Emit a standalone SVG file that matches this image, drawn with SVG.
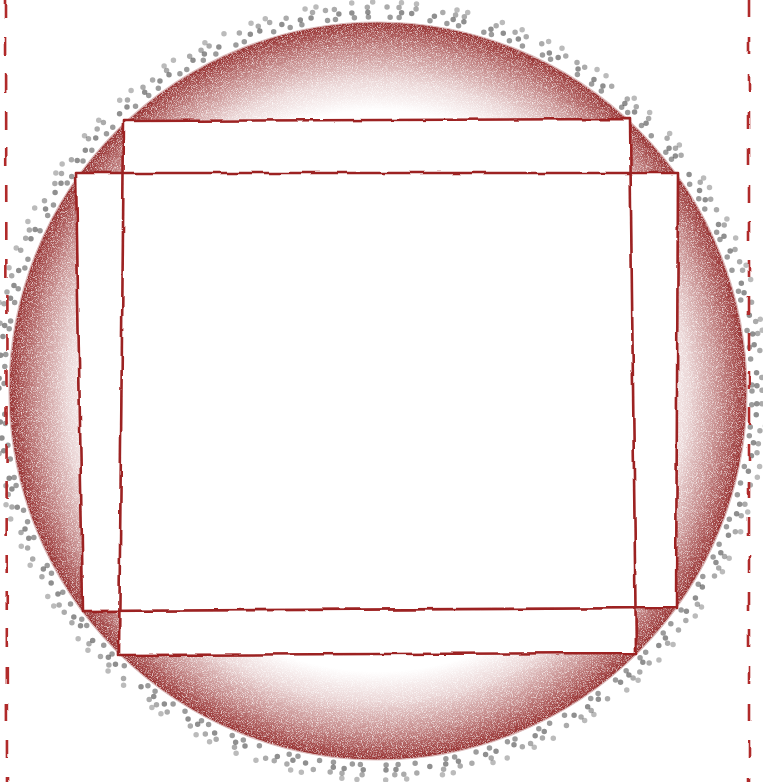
<svg xmlns="http://www.w3.org/2000/svg" width="763" height="782" viewBox="0 0 763 782">
<defs>
<style>
.frame{fill:none;stroke:#9c2020;stroke-width:2.6;stroke-linejoin:round;filter:url(#wobble)}
.dash{fill:none;stroke:#b02a2a;stroke-width:2.6;stroke-dasharray:18 19;filter:url(#wobble)}
.ring{fill:none;stroke-linecap:round;stroke-width:5.5}
.wf{fill:#fff;stroke:none}
</style>
<radialGradient id="shade" gradientUnits="userSpaceOnUse" cx="378" cy="391" r="369">
<stop offset="0" stop-color="#8e1c1c" stop-opacity="0"/>
<stop offset="0.76" stop-color="#8e1c1c" stop-opacity="0"/>
<stop offset="0.84" stop-color="#8e1c1c" stop-opacity="0.18"/>
<stop offset="0.92" stop-color="#8e1c1c" stop-opacity="0.5"/>
<stop offset="1" stop-color="#8a1818" stop-opacity="0.9"/>
</radialGradient>
<filter id="grain" filterUnits="userSpaceOnUse" x="0" y="0" width="763" height="782" color-interpolation-filters="sRGB">
<feTurbulence type="fractalNoise" baseFrequency="1.2" numOctaves="1" seed="4" result="n"/>
<feColorMatrix in="n" type="matrix" values="0 0 0 0 0  0 0 0 0 0  0 0 0 0 0  2.4 0 0 0 -0.3" result="a"/>
<feComposite in="SourceGraphic" in2="a" operator="in"/>
</filter>
<filter id="wobble" filterUnits="userSpaceOnUse" x="0" y="0" width="763" height="782">
<feTurbulence type="fractalNoise" baseFrequency="0.045" numOctaves="2" seed="7" result="w"/>
<feDisplacementMap in="SourceGraphic" in2="w" scale="4" xChannelSelector="R" yChannelSelector="G"/>
</filter>
</defs>
<rect width="763" height="782" fill="#fff"/>
<g id="dots">
<circle class="ring" cx="378" cy="391" r="374" stroke="#3a3a3a" stroke-opacity="0.5" stroke-dasharray="0 14 0 22 0 9 0 31 0 17 0 12 0 26 0 8 0 19"/>
<circle class="ring" cx="378" cy="391" r="379" stroke="#333" stroke-opacity="0.55" stroke-dasharray="0 19 0 11 0 28 0 13 0 16 0 34 0 10 0 23" stroke-dashoffset="6"/>
<circle class="ring" cx="378" cy="391" r="384" stroke="#444" stroke-opacity="0.45" stroke-dasharray="0 17 0 27 0 13 0 9 0 33 0 20 0 12" stroke-dashoffset="4"/>
<circle class="ring" cx="378" cy="391" r="389" stroke="#555" stroke-opacity="0.4" stroke-dasharray="0 29 0 15 0 41 0 11 0 36 0 21" stroke-dashoffset="9"/>
</g>
<g id="disc">
<circle cx="378" cy="391" r="369" fill="url(#shade)" filter="url(#grain)"/>
<circle cx="378" cy="391" r="369" fill="none" stroke="#dcbcbc" stroke-width="1.2"/>
</g>
<g id="white-rects">
<path class="wf" d="M124 121 L630 119 L636 653 L119 655 Z"/>
<path class="wf" d="M76 173 L678 173 L676 608 L83 611 Z"/>
</g>
<g id="frames">
<path class="frame" d="M124 121 L630 119 L636 653 L119 655 Z"/>
<path class="frame" d="M76 173 L678 173 L676 608 L83 611 Z"/>
</g>
<g id="guides">
<path class="dash" d="M6 0 L7 782"/>
<path class="dash" d="M749 0 L749 782"/>
</g>
</svg>
